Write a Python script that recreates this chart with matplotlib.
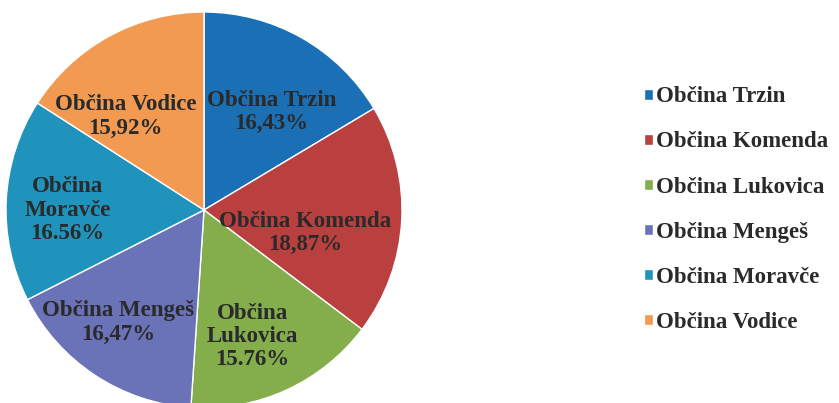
import numpy as np
import matplotlib.pyplot as plt

# data
names = ['Občina Trzin', 'Občina Komenda', 'Občina Lukovica',
         'Občina Mengeš', 'Občina Moravče', 'Občina Vodice']
shares = [16.43, 18.87, 15.76, 16.47, 16.56, 15.92]
pie_texts = ['Občina Trzin\n16,43%', 'Občina Komenda\n18,87%', 'Občina\nLukovica\n15.76%',
             'Občina Mengeš\n16,47%', 'Občina\nMoravče\n16.56%', 'Občina Vodice\n15,92%']
colors = ['#1b6fb5', '#b9403f', '#84ad4b', '#6a72b8', '#1f93bb', '#f39a52']
# small nudges of the slice labels (like Excel's best fit)
nudge_x = [0.005, -0.17, -0.04, -0.06, -0.01, -0.07]
nudge_y = [-0.095, -0.08, -0.02, 0.0, -0.035, -0.125]

plt.rcParams['font.family'] = ['Liberation Serif', 'DejaVu Serif']

fig = plt.figure(figsize=(8.39, 4.03), dpi=100)
ax = fig.add_axes([6/839, -5/403, 396/839, 396/403])

wedges, _ = ax.pie(shares, colors=colors, startangle=90, counterclock=False,
                   wedgeprops=dict(edgecolor='white', linewidth=1))
ax.set_xlim(-1, 1)
ax.set_ylim(-1, 1)
ax.set_aspect('equal')

# labels inside the slices
for w, txt, nx, ny in zip(wedges, pie_texts, nudge_x, nudge_y):
    ang = np.deg2rad((w.theta1 + w.theta2) / 2)
    r = 0.68
    ax.text(r*np.cos(ang) + nx, r*np.sin(ang) + ny, txt, ha='center', va='center',
            fontsize=16.5, fontweight='bold', color='#2a2a2a', linespacing=1.15)

leg = fig.legend(wedges, names, loc='center left', bbox_to_anchor=(644/839, 0.48),
                 frameon=False, fontsize=16.5, handlelength=0.38, handleheight=0.38,
                 handletextpad=0.13, labelspacing=1.05, borderpad=0, borderaxespad=0)
for t in leg.get_texts():
    t.set_fontweight('bold')
    t.set_color('#2a2a2a')

plt.savefig('out.png')
